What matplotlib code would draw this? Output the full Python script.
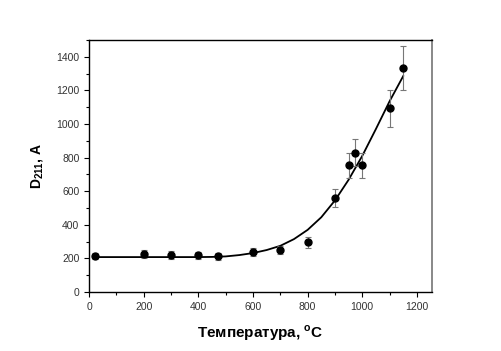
import matplotlib
matplotlib.use("Agg")
import matplotlib.pyplot as plt
from matplotlib.ticker import MultipleLocator

plt.rcParams['font.family'] = ['Liberation Sans', 'DejaVu Sans']
plt.rcParams['mathtext.fontset'] = 'custom'
plt.rcParams['mathtext.rm'] = 'Liberation Sans'
plt.rcParams['mathtext.bf'] = 'Liberation Sans:bold'

# measured points
temp = [20, 200, 300, 400, 470, 600, 700, 800, 900, 950, 975, 1000, 1100, 1150]
size = [215, 225, 220, 218, 212, 238, 250, 295, 560, 755, 830, 755, 1095, 1335]
err = [20, 25, 25, 22, 20, 25, 22, 30, 55, 75, 80, 75, 110, 130]

# fitted curve
fit_t = [20, 100, 200, 300, 400, 450, 500, 550, 600, 650, 700, 750, 800,
         850, 900, 950, 1000, 1050, 1100, 1150]
fit_d = [208, 208, 208, 208, 208, 209, 212, 220, 232, 250, 275, 315, 370,
         445, 545, 668, 810, 970, 1135, 1285]

fig = plt.figure(figsize=(5.01, 3.51), dpi=100)
ax = fig.add_axes([0.178, 0.168, 0.684, 0.718])

ax.plot(fit_t, fit_d, color='black', lw=1.3, zorder=2)
ax.errorbar(temp, size, yerr=err, fmt='o', color='black', ms=5,
            ecolor='#777777', elinewidth=0.8, capsize=2, capthick=0.8, zorder=3)

ax.set_xlim(0, 1255)
ax.set_ylim(0, 1500)
ax.xaxis.set_major_locator(MultipleLocator(200))
ax.xaxis.set_minor_locator(MultipleLocator(100))
ax.yaxis.set_major_locator(MultipleLocator(200))
ax.yaxis.set_minor_locator(MultipleLocator(100))
ax.tick_params(which='both', direction='out', labelsize=7.5, colors='black',
               labelcolor='#333333', width=0.8)
ax.tick_params(which='major', length=3.5)
ax.tick_params(which='minor', length=2)
ax.spines['right'].set_color('#888888')
ax.spines['right'].set_linewidth(1.4)
for s in ['left', 'top', 'bottom']:
    ax.spines[s].set_linewidth(1.0)

ax.set_xlabel('Температура, $^{\\mathbf{o}}$C', fontsize=11, fontweight='bold', labelpad=8)
ax.set_ylabel('D$_{\\mathbf{211}}$, A', fontsize=10, fontweight='bold', labelpad=8)

fig.savefig('out.png', dpi=100)
